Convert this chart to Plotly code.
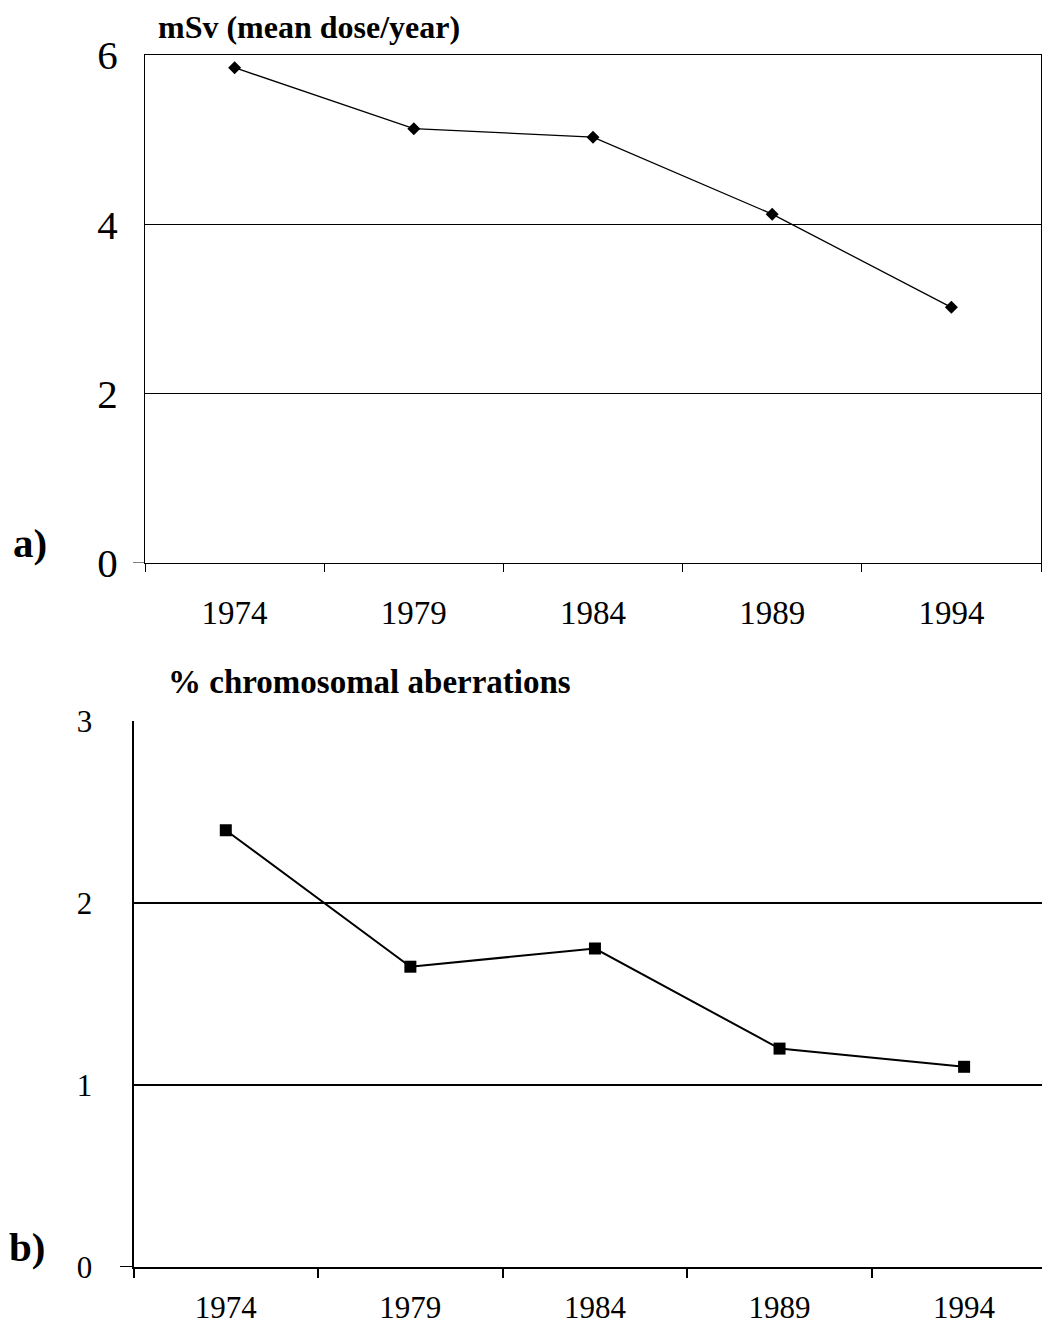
import plotly.graph_objects as go

years = ["1974", "1979", "1984", "1989", "1994"]
dose = [5.85, 5.13, 5.03, 4.12, 3.02]
aberr = [2.40, 1.65, 1.75, 1.20, 1.10]
dose_ticks = [0, 2, 4, 6]
aberr_ticks = [0, 1, 2, 3]

W, H = 1042, 1331
FONT = "Liberation Serif, Times New Roman, serif"


def px(x):
    return x / W


def py(y):
    return 1 - y / H


fig = go.Figure()
fig.add_trace(go.Scatter(x=years, y=dose, mode="lines+markers", xaxis="x", yaxis="y",
                         line=dict(color="black", width=1.3),
                         marker=dict(symbol="diamond", size=10, color="black"),
                         showlegend=False))
fig.add_trace(go.Scatter(x=years, y=aberr, mode="lines+markers", xaxis="x2", yaxis="y2",
                         line=dict(color="black", width=2),
                         marker=dict(symbol="square", size=12, color="black"),
                         showlegend=False))

fig.update_layout(
    width=W, height=H, autosize=False,
    margin=dict(l=0, r=0, t=0, b=0, pad=0),
    paper_bgcolor="white", plot_bgcolor="white",
    font=dict(family=FONT, color="black"),
    xaxis=dict(domain=[px(145), px(1041)], anchor="y", type="category", automargin=False,
               range=[-0.5, 4.5], tickson="boundaries", ticks="outside", ticklen=8,
               tickcolor="black", tickwidth=1, showline=True, linecolor="black",
               linewidth=1, mirror=True, showgrid=False,
               tickfont=dict(size=33, family=FONT), ticklabelstandoff=20),
    yaxis=dict(domain=[py(563), py(55)], anchor="x", range=[0, 6], automargin=False,
               tickvals=dose_ticks, ticks="", showline=True, linecolor="black",
               linewidth=1, mirror=True, showgrid=True, gridcolor="black",
               gridwidth=1, zeroline=False,
               tickfont=dict(size=41, family=FONT), ticklabelstandoff=18),
    xaxis2=dict(domain=[px(133.5), 1], anchor="y2", type="category", automargin=False,
                range=[-0.5, 4.422], tickson="boundaries", ticks="outside", ticklen=9,
                tickcolor="black", tickwidth=1.5, showline=True, linecolor="black",
                linewidth=2, showgrid=False,
                tickfont=dict(size=31, family=FONT), ticklabelstandoff=12),
    yaxis2=dict(domain=[py(1267), py(721)], anchor="x2", range=[0, 3], automargin=False,
                tickvals=aberr_ticks, ticks="", showline=True, linecolor="black",
                linewidth=2, showgrid=True, gridcolor="black", gridwidth=2,
                zeroline=False,
                tickfont=dict(size=31, family=FONT), ticklabelstandoff=33),
)

# small tick extending left of each y axis at zero
fig.add_shape(type="line", xref="paper", yref="y", x0=px(133), x1=px(145), y0=0, y1=0,
              line=dict(color="black", width=1))
fig.add_shape(type="line", xref="paper", yref="y2", x0=px(120), x1=px(133.5), y0=0, y1=0,
              line=dict(color="black", width=2))

annots = [
    ("<b>mSv (mean dose/year)</b>", 156, 27, 32),
    ("<b>% chromosomal aberrations</b>", 166, 682, 33),
    ("<b>a)</b>", 11, 543, 41),
    ("<b>b)</b>", 7, 1247, 41),
]
for text, x, y, size in annots:
    fig.add_annotation(text=text, xref="paper", yref="paper", x=px(x), y=py(y),
                       xanchor="left", yanchor="middle", showarrow=False,
                       font=dict(size=size, family=FONT, color="black"))

fig.write_html("out.html", config={"displayModeBar": False},
               post_script="document.body.style.margin='0';")
